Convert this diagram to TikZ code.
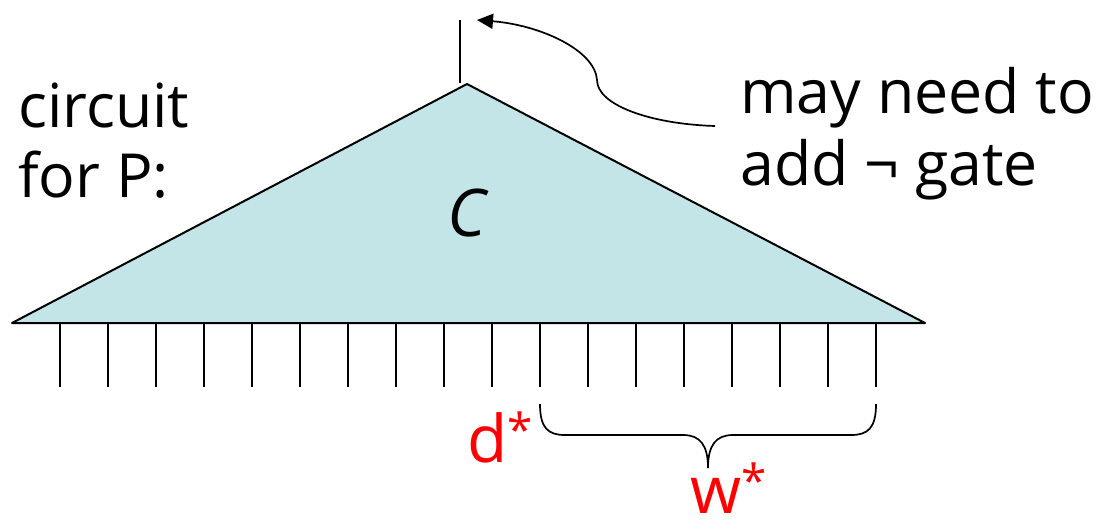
\documentclass[tikz,border=0pt]{standalone}
\usepackage{fontspec}
\setmainfont{Open Sans}
\usetikzlibrary{arrows.meta}
\definecolor{trifill}{RGB}{196,229,232}
\definecolor{labred}{RGB}{255,0,0}
\newcommand{\supstar}{{\fontsize{26}{30}\selectfont\raisebox{9pt}{*}}}
\begin{document}
\begin{tikzpicture}[x=0.02cm,y=-0.02cm,
  wire/.style={line width=0.04cm, black},
  thinwire/.style={line width=0.034cm, black},
  bigtext/.style={font=\fontsize{34.6}{40}\selectfont, inner sep=0, anchor=base west},
  redtext/.style={font=\fontsize{37.4}{44}\selectfont, text=labred, inner sep=0, text depth=0pt, anchor=base west}]
\useasboundingbox (0,0) rectangle (1097,527);
% triangle (circuit C)
\coordinate (L) at (12,323);
\coordinate (A) at (467,84);
\coordinate (R) at (925,323);
\filldraw[wire, fill=trifill, line join=round] (L) -- (A) -- (R) -- cycle;
\node[font=\fontsize{37.4}{44}\selectfont\itshape, inner sep=0] (C) at (467,213) {C};
% output wire
\coordinate (outtop) at (460,20);
\coordinate (outbot) at (460,83);
\draw[wire] (outbot) -- (outtop);
% input wires
\foreach \i in {0,...,17} {
  \coordinate (t\i) at ({60+48*\i},323);
  \coordinate (b\i) at ({60+48*\i},387);
  \draw[wire] (t\i) -- (b\i);
}
% labels
\node[bigtext] (circ1) at (18,127) {circuit};
\node[bigtext] (circ2) at (18,197) {for P:};
\node[bigtext] (may1) at (740,113) {may need to};
\node[bigtext] (may2) at (740,185) {add ¬ gate};
\node[redtext] (dstar) at (467,462) {d\supstar};
\node[redtext] (wstar) at (690,513) {w\supstar};
% curved arrow
\coordinate (arrstart) at (715,126);
\coordinate (arrend) at (477,20);
\draw[thinwire, -{Triangle[length=0.32cm,width=0.3cm]}] (arrstart) .. controls (650,124) and (597,105) .. (597,80) .. controls (595,50) and (540,25) .. (arrend);
% brace
\coordinate (brl) at (540,404);
\coordinate (brr) at (876,404);
\coordinate (brtip) at (708,468);
\draw[thinwire] (brl) .. controls (540,428) and (548,435) .. (565,435) -- (683,435) .. controls (700,435) and (708,445) .. (brtip) .. controls (708,445) and (716,435) .. (733,435) -- (851,435) .. controls (868,435) and (876,428) .. (brr);
\end{tikzpicture}
\end{document}
